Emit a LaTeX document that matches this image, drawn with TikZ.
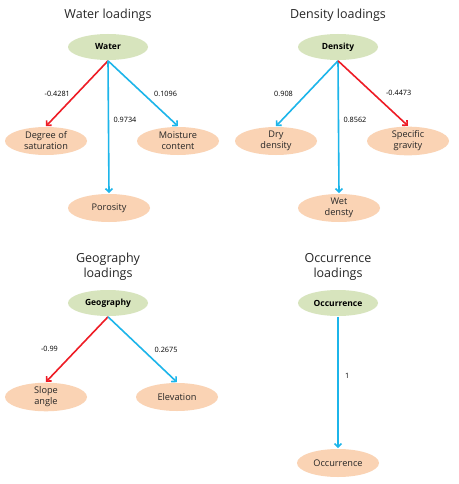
\documentclass[tikz,border=0pt]{standalone}
\usepackage{fontspec}
\setmainfont{Open Sans}
\usetikzlibrary{arrows.meta,shapes.geometric}
\definecolor{rootgreen}{HTML}{D7E4BD}
\definecolor{leaforange}{HTML}{FAD3B4}
\definecolor{posblue}{HTML}{1CB5EA}
\definecolor{negred}{HTML}{EE1C25}

\begin{document}
\begin{tikzpicture}[x=1pt,y=-1pt,->,>={Straight Barb[length=3.5pt,width=7pt]},
        line width=1.6pt,
        title/.style={font=\fontsize{12.5}{15}\selectfont,align=center,text=black!85},
        root/.style={ellipse,fill=rootgreen,minimum width=80pt,minimum height=26pt,
            inner sep=0pt,font=\fontsize{8.5}{10}\selectfont\bfseries},
        leaf/.style={ellipse,fill=leaforange,minimum width=82pt,minimum height=28pt,
            inner sep=0pt,align=center,font=\fontsize{9.2}{11}\selectfont,text=black!85},
        poslink/.style={draw=posblue},
        neglink/.style={draw=negred},
        load/.style={font=\fontsize{7.3}{8}\selectfont,text=black}]

    \path[fill=white] (0,0) rectangle (458,484);
    \useasboundingbox (0,0) rectangle (458,484);

    % water
    \node[title] (twater) at (108,15) {Water loadings};
    \node[root] (water) at (108,47) {Water};
    \node[leaf] (sat) at (46,141) {Degree of\\saturation};
    \node[leaf] (moist) at (178,141) {Moisture\\content};
    \node[leaf] (poro) at (109,208) {Porosity};

    \path (water.south) edge[neglink] node[load,left=3pt] {-0.4281} (sat.north);
    \path (water.south) edge[poslink] node[load,pos=0.45,right=1pt] {0.9734} (poro.north);
    \path (water.south) edge[poslink] node[load,right=7pt] {0.1096} (moist.north);

    % density
    \node[title] (tdensity) at (338,15) {Density loadings};
    \node[root] (density) at (338,47) {Density};
    \node[leaf] (dry) at (276,141) {Dry\\density};
    \node[leaf] (spec) at (408,141) {Specific\\gravity};
    \node[leaf] (wet) at (339,208) {Wet\\densty};

    \path (density.south) edge[poslink] node[load,left=10pt] {0.908} (dry.north);
    \path (density.south) edge[poslink] node[load,pos=0.45,right=1pt] {0.8562} (wet.north);
    \path (density.south) edge[neglink] node[load,right=9pt] {-0.4473} (spec.north);

    % geography
    \node[title] (tgeo) at (108,267) {Geography\\loadings};
    \node[root] (geography) at (108,303) {Geography};
    \node[leaf] (slope) at (46,397) {Slope\\angle};
    \node[leaf] (elev) at (177,397) {Elevation};

    \path (geography.south) edge[neglink] node[load,left=15pt] {-0.99} (slope.north);
    \path (geography.south) edge[poslink] node[load,right=8pt] {0.2675} (elev.north);

    % occurrence
    \node[title] (tocc) at (338,267) {Occurrence\\loadings};
    \node[root] (occurrence) at (338,303) {Occurrence};
    \node[leaf] (occ) at (338,463) {Occurrence};

    \path (occurrence.south) edge[poslink] node[load,pos=0.45,right=3pt] {1} (occ.north);

\end{tikzpicture}
\end{document}
